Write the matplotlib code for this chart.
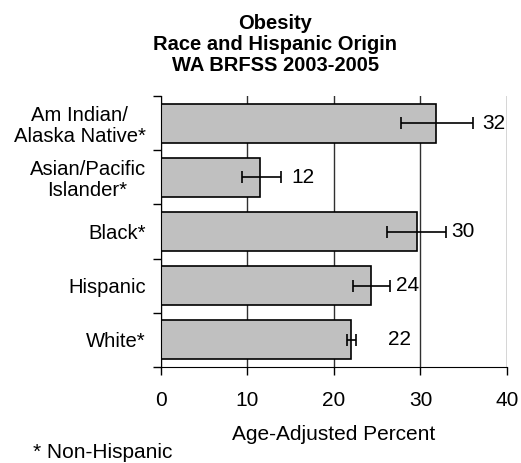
import numpy as np
import matplotlib
matplotlib.use("Agg")
import matplotlib.pyplot as plt

plt.rcParams['font.family'] = ['Liberation Sans', 'DejaVu Sans']

# данные (сверху вниз)
groups = ['Am Indian/\nAlaska Native*', 'Asian/Pacific\nIslander*', 'Black*', 'Hispanic', 'White*']
percent = [31.8, 11.5, 29.6, 24.3, 22.0]
ci_low = [27.7, 9.4, 26.1, 22.2, 21.5]
ci_high = [36.1, 13.9, 33.0, 26.5, 22.6]
labels = ['32', '12', '30', '24', '22']
label_x = [37.1, 15.1, 33.6, 27.2, 26.2]  # где стоят подписи

y = np.arange(len(groups))
err = [np.array(percent) - np.array(ci_low), np.array(ci_high) - np.array(percent)]

fig = plt.figure(figsize=(5.21, 4.63), dpi=100)
ax = fig.add_axes([0.309, 0.2073, 0.664, 0.5854])

ax.barh(y, percent, height=0.72, color='#c0c0c0', edgecolor='black', linewidth=1.2, zorder=2)
ax.errorbar(percent, y, xerr=err, fmt='none', ecolor='black', elinewidth=1.2,
            capsize=4.5, capthick=1.2, zorder=3)

for yy, xx, t in zip(y, label_x, labels):
    ax.text(xx, yy, t, va='center', ha='left', fontsize=15, zorder=4)

ax.set_xlim(0, 40)
ax.set_ylim(len(groups) - 0.5, -0.5)
ax.set_xticks([0, 10, 20, 30, 40])
ax.set_yticks(np.arange(len(groups) + 1) - 0.5, minor=False)
ax.set_yticklabels([])
ax.set_yticks(y, minor=True)
ax.set_yticklabels(groups, minor=True, fontsize=14.6, multialignment='center', linespacing=1.12)
ax.tick_params(axis='y', which='minor', length=0, pad=11)
ax.tick_params(axis='y', which='major', length=6, direction='out', width=1)
ax.tick_params(axis='x', length=6, direction='out', width=1, labelsize=15, pad=11)

ax.grid(axis='x', color='#303030', linewidth=1, zorder=1)
ax.spines['top'].set_visible(False)
ax.spines['right'].set_visible(False)

ax.set_xlabel('Age-Adjusted Percent', fontsize=15, labelpad=11)
fig.text(0.528, 0.970, 'Obesity\nRace and Hispanic Origin\nWA BRFSS 2003-2005', fontsize=14.5,
         fontweight='bold', ha='center', va='top', linespacing=1.14)
fig.text(0.063, 0.0216, '* Non-Hispanic', fontsize=15, va='center')

fig.savefig('out.png')
